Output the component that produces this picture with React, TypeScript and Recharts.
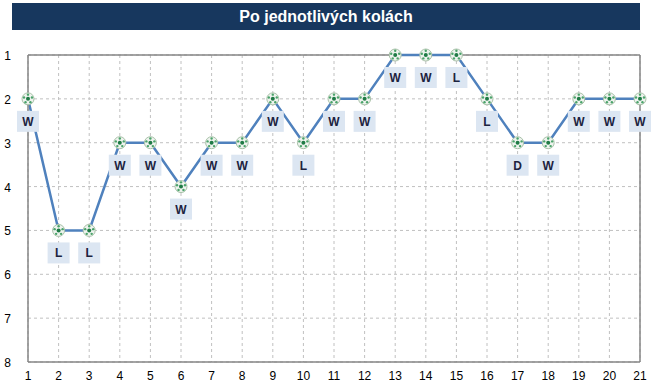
import React from "react";
import { LineChart, Line, XAxis, YAxis, CartesianGrid, ReferenceLine, LabelList } from "recharts";

const rounds = [1, 2, 3, 4, 5, 6, 7, 8, 9, 10, 11, 12, 13, 14, 15, 16, 17, 18, 19, 20, 21];
const positions = [2, 5, 5, 3, 3, 4, 3, 3, 2, 3, 2, 2, 1, 1, 1, 2, 3, 3, 2, 2, 2];
const results = ["W", "L", "L", "W", "W", "W", "W", "W", "W", "L", "W", "W", "W", "W", "L", "L", "D", "W", "W", "W", "W"];
const yTicks = [1, 2, 3, 4, 5, 6, 7, 8];
const title = "Po jednotlivých kolách";

const data = rounds.map((r, i) => ({ round: r, pos: positions[i], res: results[i] }));

const FONT = "'Liberation Sans', Arial, sans-serif";

const BallDot = (props: any) => {
  const { cx, cy, index } = props;
  if (cx == null || cy == null) return null;
  const dots = [0, 1, 2, 3, 4].map((k) => {
    const a = (-90 + k * 72) * Math.PI / 180;
    return <circle key={k} cx={cx + 4.2 * Math.cos(a)} cy={cy + 4.2 * Math.sin(a)} r={1.2} fill="#4aa36a" />;
  });
  return (
    <g key={"dot" + index}>
      <circle cx={cx} cy={cy} r={6} fill="#eef3ee" stroke="#a9c2a9" strokeWidth={1} />
      <circle cx={cx} cy={cy} r={2} fill="#1f7a45" />
      {dots}
    </g>
  );
};

const ResultLabel = (props: any) => {
  const { x, y, value } = props;
  if (x == null || y == null) return null;
  return (
    <g>
      <rect x={x - 11} y={y + 12} width={22} height={21} fill="#dce6f2" />
      <text x={x} y={y + 27} textAnchor="middle" fontFamily={FONT} fontWeight="bold" fontSize={12} fill="#1c2340">
        {value}
      </text>
    </g>
  );
};

const YTick = (props: any) => {
  const { y, payload } = props;
  return (
    <text x={11} y={y + 5} textAnchor="end" fontFamily={FONT} fontSize={12} fill="#000">
      {payload.value}
    </text>
  );
};

const XTick = (props: any) => {
  const { x, y, payload } = props;
  return (
    <text x={x} y={y + 10} textAnchor="middle" fontFamily={FONT} fontSize={12} fill="#000">
      {payload.value}
    </text>
  );
};

export default function App() {
  return (
    <div style={{ position: "absolute", left: 0, top: 0, width: 652, height: 389, background: "#fff" }}>
      <div
        style={{
          position: "absolute",
          left: 12,
          top: 3,
          width: 628,
          height: 27,
          background: "#17375e",
          color: "#fff",
          fontFamily: FONT,
          fontWeight: "bold",
          fontSize: 16,
          lineHeight: "28px",
          textAlign: "center",
        }}
      >
        {title}
      </div>
      <LineChart width={652} height={389} data={data} margin={{ top: 55, right: 12, bottom: 7, left: 8 }}>
        <CartesianGrid strokeDasharray="3 3" stroke="#c0c0c0" />
        <XAxis
          dataKey="round"
          type="number"
          domain={[1, 21]}
          ticks={rounds}
          interval={0}
          height={20}
          tickLine={false}
          axisLine={{ stroke: "#868686", strokeWidth: 1.5 }}
          tick={<XTick />}
        />
        <YAxis
          type="number"
          reversed
          domain={[1, 8]}
          ticks={yTicks}
          interval={0}
          width={20}
          tickLine={false}
          axisLine={{ stroke: "#868686", strokeWidth: 1.5 }}
          tick={<YTick />}
        />
        <ReferenceLine y={1} stroke="#868686" strokeWidth={1.5} />
        <ReferenceLine x={21} stroke="#868686" strokeWidth={1.5} />
        <Line
          dataKey="pos"
          stroke="#4f81bd"
          strokeWidth={2.5}
          dot={<BallDot />}
          activeDot={false}
          isAnimationActive={false}
        >
          <LabelList dataKey="res" content={<ResultLabel />} />
        </Line>
      </LineChart>
    </div>
  );
}
